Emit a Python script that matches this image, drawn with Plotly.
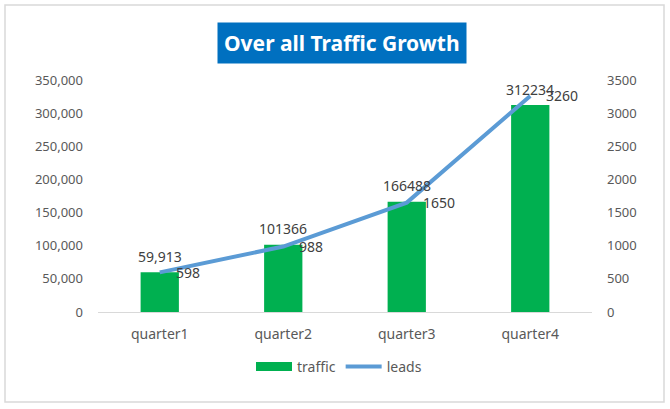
import plotly.graph_objects as go

categories = ["quarter1", "quarter2", "quarter3", "quarter4"]
traffic = [59913, 101366, 166488, 312234]
traffic_labels = ["59,913", "101366", "166488", "312234"]
leads = [598, 988, 1650, 3260]
leads_labels = ["598", "988", "1650", "3260"]

FONT = "Noto Sans"
fig = go.Figure()
fig.add_trace(go.Bar(x=categories, y=traffic, name="traffic", marker_color="#00B050",
                     marker_line_width=0, yaxis="y", showlegend=False))
# legend proxy for the bar series (wide swatch like the reference)
fig.add_trace(go.Scatter(x=[None], y=[None], name="traffic", mode="lines",
                         line=dict(color="#00B050", width=9), yaxis="y"))
fig.add_trace(go.Scatter(x=categories, y=leads, name="leads", mode="lines",
                         line=dict(color="#5B9BD5", width=4), yaxis="y2"))

annotations = []
for c, v, t in zip(categories, traffic, traffic_labels):
    annotations.append(dict(x=c, y=v, xref="x", yref="y", text=t, showarrow=False,
                            yshift=16, font=dict(family=FONT, size=14, color="#404040")))
for c, v, t in zip(categories, leads, leads_labels):
    annotations.append(dict(x=c, y=v, xref="x", yref="y2", text=t, showarrow=False,
                            xanchor="left", xshift=14, yshift=0,
                            font=dict(family=FONT, size=14, color="#404040")))

L, R, T, B = 98, 78, 80, 97
pw, ph = 670 - L - R, 409 - T - B
def px(x): return (x - L) / pw
def py(y): return (409 - B - y) / ph

annotations.append(dict(x=px(342), y=py(43), xref="paper", yref="paper",
                        text="<b>Over all Traffic Growth</b>", showarrow=False,
                        bgcolor="#0070C0", borderpad=6, yanchor="middle", xanchor="center",
                        font=dict(family=FONT, size=21, color="white")))

fig.update_layout(
    width=670, height=409,
    margin=dict(l=L, r=R, t=T, b=B),
    paper_bgcolor="white", plot_bgcolor="white",
    font=dict(family=FONT, size=13, color="#595959"),
    bargap=0.69,
    showlegend=True,
    legend=dict(orientation="h", x=px(339), xanchor="center", y=py(367), yanchor="middle",
                font=dict(family=FONT, size=14, color="#595959"), itemwidth=36,
                traceorder="normal"),
    xaxis=dict(showgrid=False, showline=True, linecolor="#d9d9d9", linewidth=1,
               ticks="", tickfont=dict(size=14), ticklabelstandoff=9),
    yaxis=dict(range=[0, 350000], dtick=50000, tickformat=",", showgrid=False,
               zeroline=False, showline=False, ticks="", ticklabelstandoff=14),
    yaxis2=dict(range=[0, 3500], dtick=500, overlaying="y", side="right",
                showgrid=False, zeroline=False, showline=False, ticks="", ticklabelstandoff=14),
    annotations=annotations,
    shapes=[dict(type="rect", xref="paper", yref="paper",
                 x0=px(5), x1=px(664), y0=py(402), y1=py(5),
                 line=dict(color="#d9d9d9", width=1.5), layer="below")],
    hovermode=False,
)
fig.write_html("out.html")
